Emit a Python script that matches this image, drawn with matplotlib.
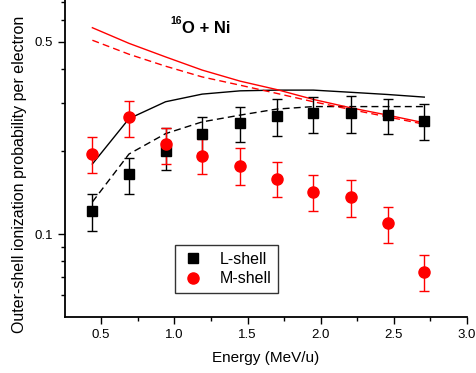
import numpy as np
import matplotlib
matplotlib.use('Agg')
import matplotlib.pyplot as plt
from matplotlib.lines import Line2D
from matplotlib.ticker import FixedLocator, NullFormatter, MultipleLocator

plt.rcParams['font.family'] = ['Liberation Sans', 'DejaVu Sans']

# ---- data ----
energy = [0.44, 0.69, 0.94, 1.19, 1.45, 1.70, 1.95, 2.205, 2.457, 2.708]

l_shell = [0.1215, 0.165, 0.201, 0.231, 0.254, 0.269, 0.276, 0.276, 0.271, 0.259]
l_err_hi = [0.1395, 0.189, 0.243, 0.266, 0.290, 0.309, 0.316, 0.317, 0.311, 0.297]
l_err_lo = [0.103, 0.1395, 0.171, 0.198, 0.216, 0.228, 0.233, 0.234, 0.231, 0.220]

m_shell = [0.1965, 0.266, 0.213, 0.193, 0.177, 0.159, 0.142, 0.136, 0.1094, 0.0732]
m_err_hi = [0.226, 0.305, 0.244, 0.222, 0.205, 0.183, 0.164, 0.157, 0.126, 0.0841]
m_err_lo = [0.167, 0.226, 0.180, 0.166, 0.151, 0.137, 0.121, 0.1156, 0.0930, 0.0622]

# theory curves
l_solid = [0.180, 0.263, 0.303, 0.323, 0.332, 0.334, 0.334, 0.328, 0.322, 0.315]
l_dash = [0.131, 0.1956, 0.232, 0.256, 0.271, 0.285, 0.291, 0.291, 0.291, 0.291]
m_solid = [0.563, 0.494, 0.441, 0.395, 0.360, 0.3355, 0.309, 0.288, 0.271, 0.254]
m_dash = [0.507, 0.451, 0.408, 0.373, 0.348, 0.325, 0.303, 0.284, 0.267, 0.251]

red = '#ff0000'

fig = plt.figure(figsize=(4.76, 3.73), dpi=100)
ax = fig.add_axes([0.1366, 0.150, 0.8445, 0.85])

ax.plot(energy, l_solid, color='black', lw=1.0)
ax.plot(energy, l_dash, color='black', lw=1.0, ls=(0, (5, 3)))
ax.plot(energy, m_solid, color=red, lw=1.0)
ax.plot(energy, m_dash, color=red, lw=1.0, ls=(0, (5, 3)))

l_yerr = [np.array(l_shell) - np.array(l_err_lo), np.array(l_err_hi) - np.array(l_shell)]
m_yerr = [np.array(m_shell) - np.array(m_err_lo), np.array(m_err_hi) - np.array(m_shell)]

ax.errorbar(energy, l_shell, yerr=l_yerr, fmt='s', color='black', ms=6.5,
            ecolor='black', elinewidth=1.0, capsize=3.5, capthick=1.0)
ax.errorbar(energy, m_shell, yerr=m_yerr, fmt='o', color=red, ms=8,
            ecolor=red, elinewidth=1.0, capsize=3.5, capthick=1.0)

ax.set_yscale('log')
ax.set_xlim(0.253, 3.0)
ax.set_ylim(0.05, 0.71)

ax.xaxis.set_minor_locator(MultipleLocator(0.25))
ax.set_xticks([0.5, 1.0, 1.5, 2.0, 2.5, 3.0])
ax.set_xticklabels(['0.5', '1.0', '1.5', '2.0', '2.5', '3.0'])

ax.yaxis.set_major_locator(FixedLocator([0.1, 0.5]))
ax.yaxis.set_minor_locator(FixedLocator([0.06, 0.07, 0.08, 0.09, 0.2, 0.3, 0.4, 0.6, 0.7]))
ax.yaxis.set_minor_formatter(NullFormatter())
ax.set_yticklabels(['0.1', '0.5'])

ax.spines['top'].set_visible(False)
ax.spines['right'].set_visible(False)
ax.spines['left'].set_linewidth(1.3)
ax.spines['bottom'].set_linewidth(1.3)
ax.tick_params(which='major', direction='out', length=5, width=1.0, labelsize=9.5)
ax.tick_params(which='minor', direction='out', length=3, width=1.0)

ax.set_xlabel('Energy (MeV/u)', fontsize=11, labelpad=7)
ax.set_ylabel('Outer-shell ionization probability per electron', fontsize=11.5, labelpad=6)
ax.yaxis.set_label_coords(-0.095, 0.45)

# reaction label: small bold superscript mass number + main text
ax.text(1.055, 0.538, 'O + Ni', fontsize=12, fontweight='bold', ha='left', va='baseline')
ax.text(1.052, 0.58, '16', fontsize=7.5, fontweight='bold', ha='right', va='baseline')

handles = [Line2D([], [], ls='none', marker='s', color='black', ms=6.5),
           Line2D([], [], ls='none', marker='o', color=red, ms=8)]
leg = ax.legend(handles, ['L-shell', 'M-shell'], loc='upper left',
                bbox_to_anchor=(0.253, 0.252), frameon=True,
                fancybox=False, edgecolor='black', fontsize=11.5, handletextpad=0.9,
                handlelength=1.5, borderpad=0.4, labelspacing=0.3)
leg.get_frame().set_linewidth(1.0)

fig.savefig('out.png', dpi=100)
